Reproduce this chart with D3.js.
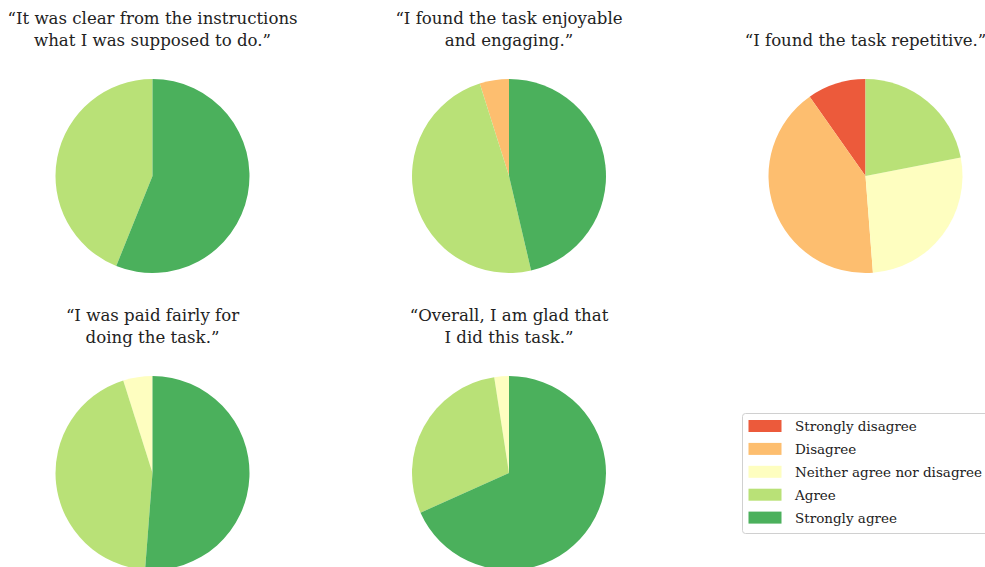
<!DOCTYPE html>
<html>
<head>
<meta charset="utf-8">
<script src="https://cdn.jsdelivr.net/npm/d3@7"></script>
<style>
  body { margin: 0; background: #fff; }
  svg { display: block; }
  text { font-family: "DejaVu Serif", serif; fill: #222; }
</style>
</head>
<body>
<div id="chart"></div>
<script>
const categories = ["Strongly disagree", "Disagree", "Neither agree nor disagree", "Agree", "Strongly agree"];
const colors = ["#ec5a3b", "#fdbe6f", "#fefec0", "#b9e177", "#4bb05c"];

const titles = [
    ["\u201cIt was clear from the instructions", "what I was supposed to do.\u201d"],
    ["\u201cI found the task enjoyable", "and engaging.\u201d"],
    ["\u201cI found the task repetitive.\u201d"],
    ["\u201cI was paid fairly for", "doing the task.\u201d"],
    ["\u201cOverall, I am glad that", "I did this task.\u201d"],
];

// responses per category (strongly disagree .. strongly agree), n = 41
const instructions = [0, 0, 0, 18, 23];
const enjoyable = [0, 2, 0, 20, 19];
const repetitive = [4, 17, 11, 9, 0];
const paidFairly = [0, 0, 2, 18, 21];
const glad = [0, 0, 1, 12, 28];
const answers = [instructions, enjoyable, repetitive, paidFairly, glad];

const width = 985;
const height = 567;

const radius = 97;
const colX = [152.5, 509, 865.5];
const rowY = [176, 473];
const lineGap = 21.5;
const titleGap = 33.5;

const svg = d3.select("#chart").append("svg")
    .attr("width", width)
    .attr("height", height);

const color = d3.scaleOrdinal().domain(categories).range(colors);

// counterclockwise from 12 o'clock, like matplotlib startangle=90
const pie = d3.pie().sort(null).value(d => d.v).startAngle(0).endAngle(-2 * Math.PI);
const arc = d3.arc().innerRadius(0).outerRadius(radius);

answers.forEach((vals, i) => {
    const cx = colX[i % 3];
    const cy = rowY[Math.floor(i / 3)];
    const g = svg.append("g").attr("transform", `translate(${cx},${cy})`);

    const slices = pie(vals.map((v, j) => ({cat: categories[j], v}))).filter(d => d.data.v > 0);

    g.selectAll("path")
        .data(slices)
        .enter()
        .append("path")
        .attr("d", arc)
        .attr("fill", d => color(d.data.cat));

    const lines = titles[i];
    const baseY = -radius - titleGap;
    g.selectAll("text.title")
        .data(lines)
        .enter()
        .append("text")
        .attr("class", "title")
        .attr("text-anchor", "middle")
        .attr("x", 0)
        .attr("y", (d, k) => baseY - (lines.length - 1 - k) * lineGap)
        .style("font-size", "16.6px")
        .text(d => d);
});

// legend
const lx = 742, ly = 413;
const legend = svg.append("g").attr("transform", `translate(${lx},${ly})`);
legend.append("rect")
    .attr("x", 0.5)
    .attr("y", 0.5)
    .attr("width", 252)
    .attr("height", 120)
    .attr("rx", 3)
    .attr("fill", "#fff")
    .attr("stroke", "#d0d0d0");

const rowH = 22.9;
const items = legend.selectAll("g.item")
    .data(categories)
    .enter()
    .append("g")
    .attr("class", "item")
    .attr("transform", (d, i) => `translate(0,${13 + i * rowH})`);

items.append("rect")
    .attr("x", 6.5)
    .attr("y", -6)
    .attr("width", 33)
    .attr("height", 12)
    .attr("fill", d => color(d));

items.append("text")
    .attr("x", 53)
    .attr("y", 5)
    .style("font-size", "13.5px")
    .text(d => d);
</script>
</body>
</html>
